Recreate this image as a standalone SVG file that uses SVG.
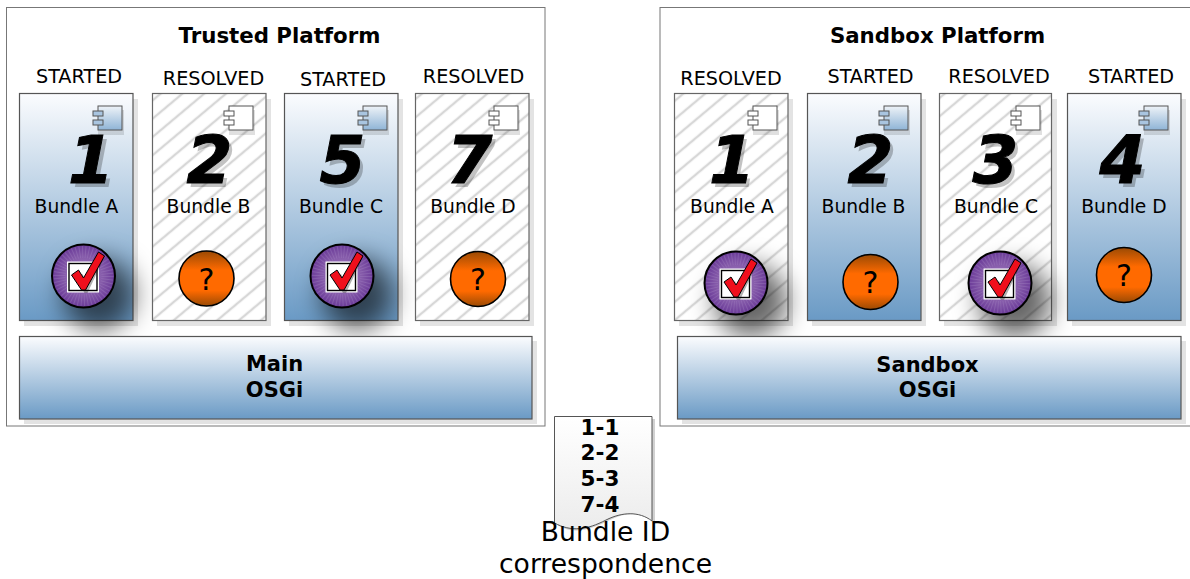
<svg xmlns="http://www.w3.org/2000/svg" width="1190" height="579" viewBox="0 0 1190 579">
<style>
text{font-family:"DejaVu Sans",Verdana,sans-serif;fill:#000;text-anchor:middle}
.plat{fill:#fff;stroke:#777;stroke-width:1}
.box{stroke:#555;stroke-width:1.2}
.sh{fill:#000;fill-opacity:.11}
.blue{fill:url(#blue)}
.hatch{fill:url(#hatch);stroke:#666;stroke-width:1.2}
.title{font-size:21.300px;font-weight:bold}
.state{font-size:19.200px}
.label{font-size:18.700px}
.num{font-size:66px;font-weight:bold;font-style:italic;stroke:#000;stroke-width:1}
.numsh{fill:#000;fill-opacity:.24;stroke:none}
.big{font-size:21px;font-weight:bold}
.doc{font-size:21.500px;font-weight:bold}
.cap{font-size:26.600px}
</style>
<defs>
<linearGradient id="blue" x1="0" y1="0" x2="0" y2="1"><stop offset="0" stop-color="#fbfcfe"/><stop offset="1" stop-color="#6a9ac5"/></linearGradient>
<linearGradient id="org" x1="0" y1="0" x2="0" y2="1"><stop offset="0" stop-color="#9a4a04"/><stop offset=".35" stop-color="#ff6a00"/><stop offset=".72" stop-color="#ff6a00"/><stop offset="1" stop-color="#9a4a04"/></linearGradient>
<radialGradient id="pur"><stop offset="0" stop-color="#a987c6"/><stop offset=".65" stop-color="#8358a8"/><stop offset="1" stop-color="#6a3a98"/></radialGradient>
<linearGradient id="docg" x1="0" y1="0" x2="0" y2="1"><stop offset="0" stop-color="#fff"/><stop offset="1" stop-color="#ececec"/></linearGradient>
<pattern id="hatch" patternUnits="userSpaceOnUse" width="14" height="14" patternTransform="rotate(-40)"><rect width="14" height="14" fill="#fff"/><rect y="5.500" width="14" height="3" fill="#efefef"/><rect y="6.300" width="14" height="1.400" fill="#cdcdcd"/></pattern>
<filter id="blur" x="-100%" y="-100%" width="300%" height="300%"><feGaussianBlur stdDeviation="13"/></filter>
<linearGradient id="cblue" x1="0" y1="0" x2="0" y2="1"><stop offset="0" stop-color="#eef3f8"/><stop offset="1" stop-color="#8fb4d6"/></linearGradient>
<g id="compb"><rect x="5" y="4" width="26" height="25" fill="#000" fill-opacity=".12"/><rect x="5" y="0" width="24" height="24" fill="url(#cblue)" stroke="#555"/><rect x="0" y="5" width="10" height="5" fill="#a9c5e0" stroke="#555"/><rect x="0" y="14" width="10" height="5" fill="#a9c5e0" stroke="#555"/></g>
<g id="compw"><rect x="5" y="4" width="26" height="25" fill="#000" fill-opacity=".12"/><rect x="5" y="0" width="24" height="24" fill="#fff" stroke="#555"/><rect x="0" y="5" width="10" height="5" fill="#fff" stroke="#555"/><rect x="0" y="14" width="10" height="5" fill="#fff" stroke="#555"/></g>
<g id="check">
<ellipse cx="15" cy="18" rx="36" ry="36" fill="#000" fill-opacity=".6" filter="url(#blur)"/>
<circle r="31.500" fill="url(#pur)" stroke="#000" stroke-width="2"/>
<circle r="24" fill="none" stroke="#c4aedb" stroke-width="12" stroke-dasharray="1 2" stroke-opacity=".2"/>
<rect x="-16.500" y="-14.500" width="32" height="31" fill="#fff"/>
<rect x="-14.500" y="-12.500" width="28" height="27" fill="#fff" stroke="#000" stroke-width="1.400"/>
<path d="M-9 1 L-3 -4 L1 4 L14 -24 L19 -21 L2 15 L-1 15 Z" fill="#000" fill-opacity=".3" transform="translate(2 2)"/>
<path d="M-12 -1 L-5 -6 L0 2 L15 -24 L21 -20 L2 14 L-2 14 Z" fill="#f00f1c" stroke="#000" stroke-width="1" stroke-linejoin="round"/>
</g>
<g id="ask"><circle r="27.500" fill="url(#org)" stroke="#000" stroke-width="1.600"/><text y="11" style="font-size:30px">?</text></g>
</defs>
<g id="trusted-platform"><rect class="plat" x="6.500" y="7.500" width="538.500" height="418.500"/><text class="title" x="279.500" y="43">Trusted Platform</text></g>
<g id="sandbox-platform"><rect class="plat" x="660" y="7.500" width="540" height="418.500"/><text class="title" x="937.500" y="43">Sandbox Platform</text></g>

<g id="t1"><text class="state" x="79" y="83">STARTED</text><rect class="sh" x="24" y="99" width="114" height="227"/><rect class="box blue" x="19.500" y="93.500" width="113.500" height="227"/><use href="#compb" x="93" y="106"/><text class="num numsh" x="95" y="187">1</text><text class="num" x="91" y="183">1</text><text class="label" x="76.500" y="213">Bundle A</text><use href="#check" x="83.500" y="276"/></g>
<g id="t2"><text class="state" x="213.500" y="85">RESOLVED</text><rect class="sh" x="157" y="99" width="114" height="227"/><rect class="hatch" x="152.500" y="93.500" width="113.500" height="227"/><use href="#compw" x="224" y="106"/><text class="num numsh" x="213" y="187">2</text><text class="num" x="209.500" y="183">2</text><text class="label" x="208.500" y="213">Bundle B</text><use href="#ask" x="206.500" y="278.500"/></g>
<g id="t5"><text class="state" x="343" y="86">STARTED</text><rect class="sh" x="289" y="99" width="114" height="227"/><rect class="box blue" x="284.500" y="93.500" width="113.500" height="227"/><use href="#compb" x="358" y="106"/><text class="num numsh" x="346" y="187">5</text><text class="num" x="342.500" y="183">5</text><text class="label" x="341" y="213">Bundle C</text><use href="#check" x="342" y="276"/></g>
<g id="t7"><text class="state" x="473.500" y="83">RESOLVED</text><rect class="sh" x="420" y="99" width="114" height="227"/><rect class="hatch" x="415.500" y="93.500" width="113.500" height="227"/><use href="#compw" x="489" y="106"/><text class="num numsh" x="473" y="187">7</text><text class="num" x="469.500" y="183">7</text><text class="label" x="473" y="213">Bundle D</text><use href="#ask" x="478" y="279"/></g>
<g id="main-osgi"><rect class="sh" x="24" y="341" width="513" height="83"/><rect class="box blue" x="19.500" y="336.500" width="512.500" height="82.500"/><text class="big" x="274.500" y="371">Main</text><text class="big" x="274.500" y="397">OSGi</text></g>

<g id="s1"><text class="state" x="731" y="85">RESOLVED</text><rect class="sh" x="679" y="99" width="114" height="227"/><rect class="hatch" x="674.500" y="93.500" width="113.500" height="227"/><use href="#compw" x="748" y="106"/><text class="num numsh" x="735" y="187">1</text><text class="num" x="732" y="183">1</text><text class="label" x="732" y="213">Bundle A</text><use href="#check" x="736" y="283"/></g>
<g id="s2"><text class="state" x="870.500" y="83">STARTED</text><rect class="sh" x="812" y="99" width="114" height="227"/><rect class="box blue" x="807.500" y="93.500" width="113.500" height="227"/><use href="#compb" x="879" y="106"/><text class="num numsh" x="874" y="187">2</text><text class="num" x="870.500" y="183">2</text><text class="label" x="863.500" y="213">Bundle B</text><use href="#ask" x="870.500" y="282"/></g>
<g id="s3"><text class="state" x="999" y="83">RESOLVED</text><rect class="sh" x="944" y="99" width="113" height="227"/><rect class="hatch" x="939.500" y="93.500" width="112" height="227"/><use href="#compw" x="1011" y="106"/><text class="num numsh" x="999" y="187">3</text><text class="num" x="995.500" y="183">3</text><text class="label" x="996" y="213">Bundle C</text><use href="#check" x="1000" y="283"/></g>
<g id="s4"><text class="state" x="1131" y="83">STARTED</text><rect class="sh" x="1072" y="99" width="114" height="227"/><rect class="box blue" x="1067.500" y="93.500" width="113.500" height="227"/><use href="#compb" x="1139" y="106"/><text class="num numsh" x="1126" y="187">4</text><text class="num" x="1122.500" y="183">4</text><text class="label" x="1124" y="213">Bundle D</text><use href="#ask" x="1124" y="275"/></g>
<g id="sandbox-osgi"><rect class="sh" x="682" y="341" width="504" height="83"/><rect class="box blue" x="677.500" y="336.500" width="503.500" height="82.500"/><text class="big" x="927.500" y="372">Sandbox</text><text class="big" x="927.500" y="397">OSGi</text></g>

<g id="correspondence">
<path d="M557 419H655V523C642 511 626 512 610 520C590 530 574 535 557 525Z" fill="#000" fill-opacity=".18"/>
<path d="M554.500 416.500H652V521C639 511 622 512 606 520C587 530 571 532 554.500 523Z" fill="url(#docg)" stroke="#555" stroke-width="1"/>
<text class="doc" x="600" y="435">1-1</text><text class="doc" x="600" y="460">2-2</text><text class="doc" x="600" y="486">5-3</text><text class="doc" x="600" y="512">7-4</text>
<text class="cap" x="605.500" y="541">Bundle ID</text><text class="cap" x="605.500" y="573">correspondence</text>
</g>
<g id="connectors"/>
</svg>
